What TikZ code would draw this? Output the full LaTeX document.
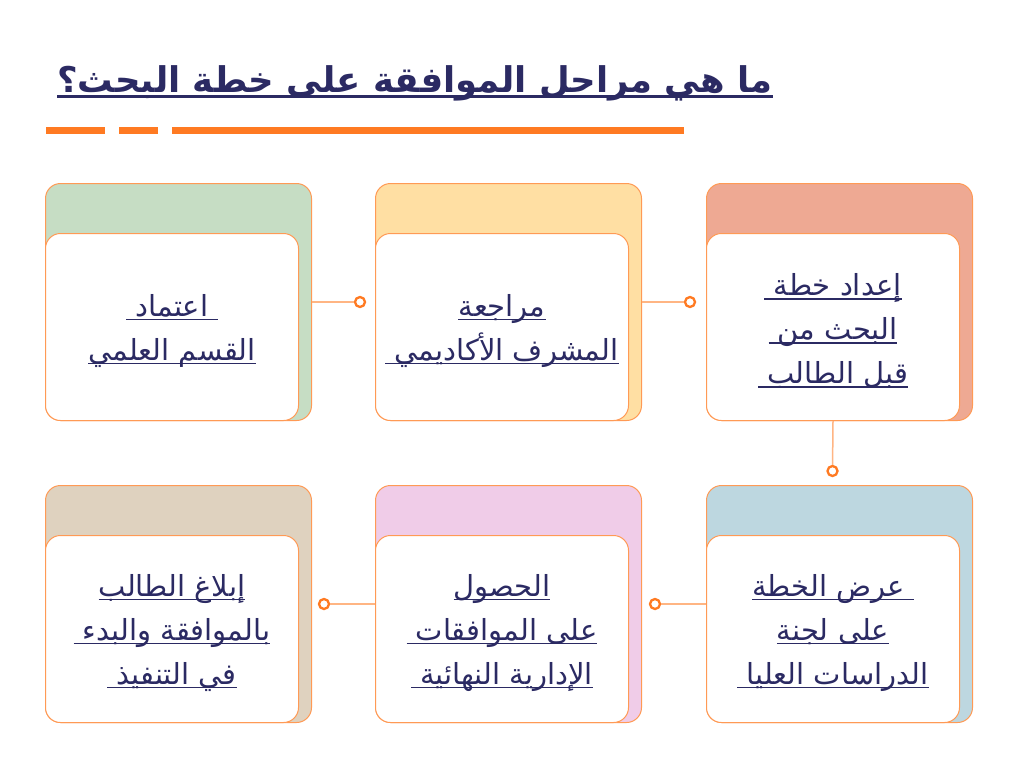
\documentclass[tikz,border=0pt]{standalone}
\usepackage{fontspec}
\TeXXeTstate=1
\newfontfamily\arabicfont[Script=Arabic]{DejaVu Sans}
\definecolor{navy}{HTML}{2B2A63}
\definecolor{orangeA}{HTML}{FF7A22}
\definecolor{orangeB}{HTML}{FF9A55}
\definecolor{orangeC}{HTML}{FFB583}
\definecolor{salmon}{HTML}{EEA993}
\definecolor{sand}{HTML}{FFDFA3}
\definecolor{sage}{HTML}{C6DDC4}
\definecolor{skyb}{HTML}{BDD7E0}
\definecolor{pinkb}{HTML}{F0CCE8}
\definecolor{beige}{HTML}{DFD2BF}
\newcommand\ulr[1]{\setbox0=\hbox{\arabicfont\beginR #1\endR}\hbox{\rlap{\color{navy}\vrule width\wd0 height -2.5pt depth 4pt}\box0}}
\newcommand\ulrt[1]{\setbox0=\hbox{\arabicfont\bfseries\beginR #1\endR}\hbox{\rlap{\color{navy}\vrule width\wd0 height -3pt depth 6pt}\box0}}
\tikzset{
  outerbox/.style={draw=orangeB, line width=1pt, rounded corners=15pt, minimum width=266pt, minimum height=237pt, inner sep=0pt, anchor=north west},
  innerbox/.style={draw=orangeB, line width=1pt, fill=white, rounded corners=15pt, minimum width=253pt, minimum height=187pt, inner sep=0pt, anchor=south west},
  boxtext/.style={inner sep=0pt, align=center, text=navy, font=\fontsize{29}{44}\selectfont},
  dot/.style={circle, draw=orangeA, line width=2.3pt, fill=white, minimum size=10pt, inner sep=0pt},
  conn/.style={draw=orangeC, line width=1.5pt},
  dashbar/.style={draw=orangeA, line width=7pt}
}
\begin{document}
\begin{tikzpicture}[x=1pt,y=-1pt]
\useasboundingbox (0,0) rectangle (1024,768);
\fill[white] (0,0) rectangle (1024,768);

% title
\node[anchor=base east, inner sep=0pt, text=navy, font=\fontsize{35.4}{44}\selectfont] (title) at (773,92) {\ulrt{ما هي مراحل الموافقة على خطة البحث؟}};
\coordinate (b1a) at (46,130); \coordinate (b1b) at (105,130);
\coordinate (b2a) at (119,130); \coordinate (b2b) at (158,130);
\coordinate (b3a) at (172,130); \coordinate (b3b) at (684,130);
\draw[dashbar] (b1a) -- (b1b);
\draw[dashbar] (b2a) -- (b2b);
\draw[dashbar] (b3a) -- (b3b);

% top row
\node[outerbox, fill=salmon] (c1o) at (706,183) {};
\node[innerbox] (c1i) at (c1o.south west) {};
\node[boxtext] (t1) at ([yshift=-4pt]c1i.center) {\ulr{إعداد خطة }\\\ulr{البحث من }\\\ulr{قبل الطالب }};
\node[outerbox, fill=sand] (c2o) at (375,183) {};
\node[innerbox] (c2i) at (c2o.south west) {};
\node[boxtext] (t2) at ([yshift=-4pt]c2i.center) {\ulr{مراجعة}\\\ulr{المشرف الأكاديمي }};
\node[outerbox, fill=sage] (c3o) at (45,183) {};
\node[innerbox] (c3i) at (c3o.south west) {};
\node[boxtext] (t3) at ([yshift=-4pt]c3i.center) {\ulr{ اعتماد }\\\ulr{القسم العلمي}};

% bottom row
\node[outerbox, fill=skyb] (c4o) at (706,485) {};
\node[innerbox] (c4i) at (c4o.south west) {};
\node[boxtext] (t4) at ([yshift=-4pt]c4i.center) {\ulr{ عرض الخطة}\\\ulr{على لجنة}\\\ulr{الدراسات العليا }};
\node[outerbox, fill=pinkb] (c5o) at (375,485) {};
\node[innerbox] (c5i) at (c5o.south west) {};
\node[boxtext] (t5) at ([yshift=-4pt]c5i.center) {\ulr{الحصول}\\\ulr{على الموافقات }\\\ulr{الإدارية النهائية }};
\node[outerbox, fill=beige] (c6o) at (45,485) {};
\node[innerbox] (c6i) at (c6o.south west) {};
\node[boxtext] (t6) at ([yshift=-4pt]c6i.center) {\ulr{إبلاغ الطالب}\\\ulr{بالموافقة والبدء }\\\ulr{في التنفيذ }};

% connectors
\node[dot] (d1) at (360,302) {};
\node[dot] (d2) at (690,302) {};
\node[dot] (d3) at (832.5,471) {};
\node[dot] (d4) at (655,604) {};
\node[dot] (d5) at (324,604) {};
\draw[conn] (c3o.east |- d1) -- (d1);
\draw[conn] (c2o.east |- d2) -- (d2);
\draw[conn] (c1i.south) -- (d3);
\draw[conn] (d4) -- (c4o.west |- d4);
\draw[conn] (d5) -- (c5o.west |- d5);
\end{tikzpicture}
\end{document}
